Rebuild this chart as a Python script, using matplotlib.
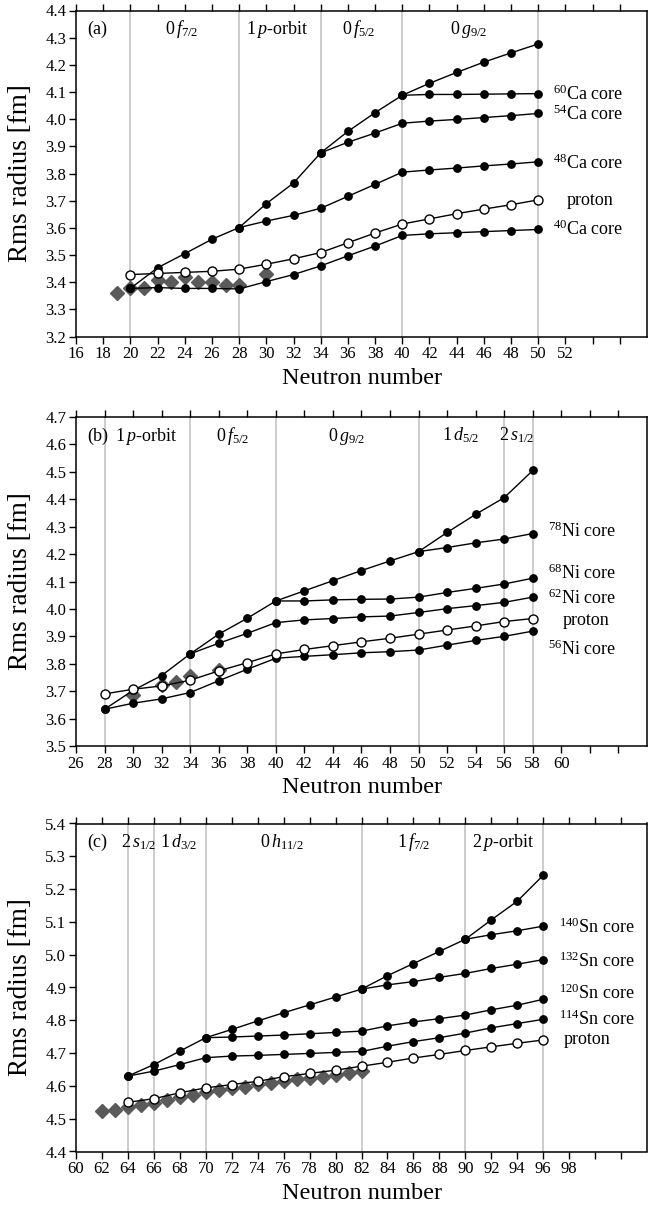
import matplotlib
matplotlib.use("Agg")
import matplotlib.pyplot as plt

plt.rcParams['font.family'] = ['Liberation Serif', 'DejaVu Serif']
plt.rcParams['mathtext.fontset'] = 'custom'
plt.rcParams['mathtext.rm'] = 'Liberation Serif'
plt.rcParams['mathtext.it'] = 'Liberation Serif:italic'
plt.rcParams['mathtext.bf'] = 'Liberation Serif:bold'

# ---------------- Panel (a): Ca ----------------
a_N_all = list(range(20, 52, 2))
a_ca40 = [3.377, 3.380, 3.377, 3.377, 3.375, 3.402, 3.428, 3.460, 3.497, 3.533,
          3.572, 3.578, 3.582, 3.586, 3.590, 3.594]
a_proton = [3.428, 3.432, 3.436, 3.440, 3.448, 3.466, 3.486, 3.509, 3.545, 3.581,
            3.614, 3.633, 3.652, 3.669, 3.685, 3.703]
a_ca48 = [3.377, 3.453, 3.505, 3.558, 3.601, 3.625, 3.646, 3.672, 3.716, 3.760,
          3.805, 3.813, 3.820, 3.828, 3.835, 3.843]
a_N54 = list(range(28, 52, 2))
a_ca54 = [3.601, 3.689, 3.765, 3.876, 3.915, 3.949, 3.985, 3.993, 3.999, 4.006, 4.013, 4.021]
a_N60 = list(range(34, 52, 2))
a_ca60 = [3.876, 3.955, 4.024, 4.088, 4.091, 4.091, 4.092, 4.093, 4.094]
a_Ntop = list(range(40, 52, 2))
a_top = [4.088, 4.132, 4.172, 4.210, 4.244, 4.277]
a_exp_N = [19, 20, 21, 22, 23, 24, 25, 26, 27, 28, 30]
a_exp = [3.360, 3.380, 3.378, 3.409, 3.400, 3.420, 3.400, 3.402, 3.388, 3.388, 3.429]
a_shell_lines = [20, 28, 34, 40, 50]
a_orbit_labels = [r'$0\,f_{7/2}$', r'$1\,p$-orbit', r'$0\,f_{5/2}$', r'$0\,g_{9/2}$']
a_orbit_x = [23.75, 30.8, 36.8, 44.9]
a_core_labels = [r'$^{60}$Ca core', r'$^{54}$Ca core', r'$^{48}$Ca core', 'proton', r'$^{40}$Ca core']

# ---------------- Panel (b): Ni ----------------
b_N_all = list(range(28, 60, 2))
b_ni56 = [3.634, 3.656, 3.672, 3.695, 3.738, 3.780, 3.820, 3.827, 3.833, 3.840,
          3.844, 3.850, 3.868, 3.885, 3.900, 3.919]
b_proton = [3.690, 3.707, 3.719, 3.740, 3.774, 3.804, 3.836, 3.852, 3.866, 3.880,
            3.893, 3.908, 3.923, 3.938, 3.954, 3.965]
b_ni62 = [3.634, 3.703, 3.757, 3.836, 3.875, 3.911, 3.950, 3.960, 3.965, 3.971,
          3.974, 3.987, 4.001, 4.012, 4.024, 4.043]
b_N68 = list(range(34, 60, 2))
b_ni68 = [3.836, 3.908, 3.966, 4.029, 4.029, 4.033, 4.035, 4.036, 4.043, 4.060, 4.075, 4.091, 4.112]
b_N78 = list(range(40, 60, 2))
b_ni78 = [4.029, 4.066, 4.103, 4.140, 4.175, 4.209, 4.224, 4.241, 4.255, 4.275]
b_Ntop = list(range(50, 60, 2))
b_top = [4.209, 4.279, 4.345, 4.406, 4.505]
b_exp_N = [30, 32, 33, 34, 36]
b_exp = [3.686, 3.722, 3.733, 3.757, 3.776]
b_shell_lines = [28, 34, 40, 50, 56, 58]
b_orbit_labels = [r'$1\,p$-orbit', r'$0\,f_{5/2}$', r'$0\,g_{9/2}$', r'$1\,d_{5/2}$', r'$2\,s_{1/2}$']
b_orbit_x = [30.9, 36.95, 44.95, 52.96, 56.9]
b_core_labels = [r'$^{78}$Ni core', r'$^{68}$Ni core', r'$^{62}$Ni core', 'proton', r'$^{56}$Ni core']

# ---------------- Panel (c): Sn ----------------
c_N_all = list(range(64, 98, 2))
c_sn114 = [4.630, 4.645, 4.665, 4.686, 4.691, 4.693, 4.696, 4.699, 4.702, 4.705,
           4.721, 4.735, 4.747, 4.761, 4.777, 4.790, 4.803]
c_sn120 = [4.630, 4.665, 4.706, 4.747, 4.749, 4.752, 4.755, 4.759, 4.763, 4.767,
           4.783, 4.795, 4.805, 4.816, 4.832, 4.846, 4.864]
c_proton = [4.550, 4.561, 4.579, 4.594, 4.604, 4.614, 4.628, 4.638, 4.648, 4.660,
            4.672, 4.685, 4.696, 4.708, 4.719, 4.730, 4.740]
c_N132 = list(range(70, 98, 2))
c_sn132 = [4.747, 4.772, 4.798, 4.823, 4.847, 4.871, 4.895, 4.908, 4.918, 4.931,
           4.943, 4.958, 4.971, 4.985]
c_N140 = list(range(82, 98, 2))
c_sn140 = [4.895, 4.936, 4.973, 5.010, 5.047, 5.061, 5.073, 5.087]
c_Ntop = list(range(90, 98, 2))
c_top = [5.047, 5.106, 5.163, 5.242]
c_exp_N = list(range(62, 83))
c_exp = [4.522, 4.527, 4.535, 4.543, 4.548, 4.557, 4.567, 4.573, 4.581, 4.587,
         4.594, 4.598, 4.605, 4.610, 4.615, 4.620, 4.625, 4.628, 4.634, 4.640, 4.644]
c_shell_lines = [64, 66, 70, 82, 90, 96]
c_orbit_labels = [r'$2\,s_{1/2}$', r'$1\,d_{3/2}$', r'$0\,h_{11/2}$', r'$1\,f_{7/2}$', r'$2\,p$-orbit']
c_orbit_x = [64.85, 67.9, 75.9, 86.0, 92.9]
c_core_labels = [r'$^{140}$Sn core', r'$^{132}$Sn core', r'$^{120}$Sn core', r'$^{114}$Sn core', 'proton']

FS_TICK = 12
FS_TEXT = 13

fig = plt.figure(figsize=(6.49, 12.08), dpi=100)

def filled(ax, x, y):
    ax.plot(x, y, '-', color='black', lw=1.0, marker='o', ms=5.3,
            mfc='black', mec='black', zorder=3)

def opened(ax, x, y):
    ax.plot(x, y, '-', color='black', lw=1.0, marker='o', ms=6.5,
            mfc='white', mec='black', mew=1.0, zorder=4)

def setup(ax, xmin, xmax, xlabmax, ymin, ymax, shells, tag, orbit_labels, orbit_x):
    ax.set_xlim(xmin, xmax)
    ax.set_ylim(ymin, ymax)
    ticks = list(range(xmin, xmax, 2))
    ax.set_xticks(ticks)
    ax.set_xticklabels([str(t) if t <= xlabmax else '' for t in ticks])
    yt = [round(ymin + 0.1 * i, 1) for i in range(int(round((ymax - ymin) / 0.1)) + 1)]
    ax.set_yticks(yt)
    ax.set_yticklabels(['%.1f' % v for v in yt])
    ax.tick_params(axis='x', which='major', direction='out', length=5, width=1,
                   top=True, labelsize=FS_TICK, pad=2)
    ax.tick_params(axis='y', which='major', direction='out', length=5, width=1,
                   right=False, labelsize=FS_TICK, pad=2)
    for s in ax.spines.values():
        s.set_linewidth(1.1)
    for xv in shells:
        ax.axvline(xv, color='#c4c4c4', lw=1.2, zorder=1)
    ax.set_xlabel('Neutron number', fontsize=17.5, labelpad=4)
    ax.set_ylabel('Rms radius [fm]', fontsize=19.5)
    ax.yaxis.set_label_coords(-0.075, 0.5)
    ax.text(0.02, 0.928, tag, transform=ax.transAxes, fontsize=FS_TEXT,
            ha='left', va='baseline')
    for lab, xv in zip(orbit_labels, orbit_x):
        ax.text(xv, ymin + 0.928 * (ymax - ymin), lab, fontsize=FS_TEXT,
                ha='center', va='baseline')

def exp(ax, x, y):
    ax.plot(x, y, linestyle='none', marker='D', ms=7.5, color='#5a5a5a', zorder=2)

left = 76 / 649
width = 571 / 649

# (a)
ax = fig.add_axes([left, 1 - 336.5 / 1208, width, 326 / 1208])
setup(ax, 16, 58, 52, 3.2, 4.4, a_shell_lines, '(a)', a_orbit_labels, a_orbit_x)
exp(ax, a_exp_N, a_exp)
filled(ax, a_N_all, a_ca40)
filled(ax, a_N_all, a_ca48)
filled(ax, a_N54, a_ca54)
filled(ax, a_N60, a_ca60)
filled(ax, a_Ntop, a_top)
opened(ax, a_N_all, a_proton)
for lab, xv, yv in zip(a_core_labels, [51.1, 51.1, 51.1, 52.1, 51.1],
                       [4.071, 3.996, 3.817, 3.683, 3.573]):
    ax.text(xv, yv, lab, fontsize=FS_TEXT, ha='left', va='baseline')

# (b)
ax = fig.add_axes([left, 1 - 746 / 1208, width, 329 / 1208])
setup(ax, 26, 66, 60, 3.5, 4.7, b_shell_lines, '(b)', b_orbit_labels, b_orbit_x)
exp(ax, b_exp_N, b_exp)
filled(ax, b_N_all, b_ni56)
filled(ax, b_N_all, b_ni62)
filled(ax, b_N68, b_ni68)
filled(ax, b_N78, b_ni78)
filled(ax, b_Ntop, b_top)
opened(ax, b_N_all, b_proton)
for lab, xv, yv in zip(b_core_labels, [59.07, 59.07, 59.07, 60.1, 59.07],
                       [4.261, 4.108, 4.017, 3.942, 3.832]):
    ax.text(xv, yv, lab, fontsize=FS_TEXT, ha='left', va='baseline')

# (c)
ax = fig.add_axes([left, 1 - 1151.5 / 1208, width, 328 / 1208])
setup(ax, 60, 104, 98, 4.4, 5.4, c_shell_lines, '(c)', c_orbit_labels, c_orbit_x)
exp(ax, c_exp_N, c_exp)
filled(ax, c_N_all, c_sn114)
filled(ax, c_N_all, c_sn120)
filled(ax, c_N132, c_sn132)
filled(ax, c_N140, c_sn140)
filled(ax, c_Ntop, c_top)
opened(ax, c_N_all, c_proton)
for lab, xv, yv in zip(c_core_labels, [97.2, 97.2, 97.2, 97.2, 97.6],
                       [5.065, 4.963, 4.864, 4.785, 4.727]):
    ax.text(xv, yv, lab, fontsize=FS_TEXT, ha='left', va='baseline')

fig.savefig('out.png', dpi=100)
